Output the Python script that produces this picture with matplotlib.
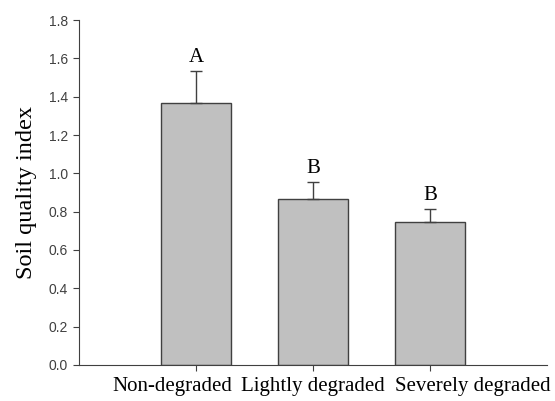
import numpy as np
import matplotlib.pyplot as plt
from matplotlib.transforms import ScaledTranslation

categories = ["Non-degraded", "Lightly degraded", "Severely degraded"]
sqi = [1.365, 0.865, 0.745]
sqi_err = [0.17, 0.09, 0.07]
letters = ["A", "B", "B"]

fig = plt.figure(figsize=(5.55, 4.01), dpi=100)
ax = fig.add_axes([0.142, 0.09, 0.844, 0.86])

x = np.arange(len(categories))
ax.bar(x, sqi, width=0.6, color="#c0c0c0", edgecolor="#404040", linewidth=1.0, zorder=2)
ax.errorbar(x, sqi, yerr=[np.zeros(len(sqi)), sqi_err], fmt="none",
            ecolor="#404040", elinewidth=1.0, capsize=4, capthick=1.0, zorder=3)

for xi, v, e, lab in zip(x, sqi, sqi_err, letters):
    ax.text(xi, v + e + 0.02, lab, ha="center", va="bottom",
            family="Liberation Serif", fontsize=15)

ax.set_xlim(-1, 3)
ax.set_ylim(0, 1.8)
yt = np.arange(0, 1.81, 0.2)
ax.set_yticks(yt)
ax.set_yticklabels([f"{t:.1f}" for t in yt],
                   family="Liberation Sans", fontsize=10, color="#404040")
ax.set_xticks(x)
ax.set_xticklabels([])
ax.set_ylabel("Soil quality index", family="Liberation Serif", fontsize=17.5, labelpad=8)

# category labels are nudged sideways in the original so they do not collide
shifts = [-0.24, 0.0, 0.43]
for xi, name, dx in zip(x, categories, shifts):
    tr = ax.get_xaxis_transform() + ScaledTranslation(dx, -0.12, fig.dpi_scale_trans)
    ax.text(xi, 0, name, transform=tr, ha="center", va="top",
            family="Liberation Serif", fontsize=15)

for s in ["top", "right"]:
    ax.spines[s].set_visible(False)
for s in ["left", "bottom"]:
    ax.spines[s].set_color("#404040")
ax.tick_params(direction="out", length=4.3, color="#404040")

fig.savefig("out.png", dpi=100)
